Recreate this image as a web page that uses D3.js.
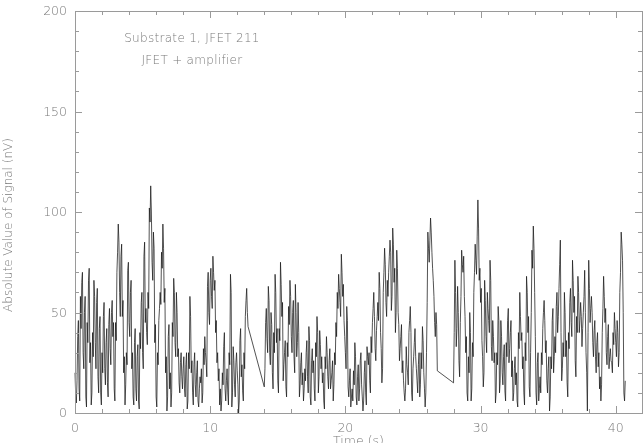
<!DOCTYPE html>
<meta charset="utf-8">
<style>
    body { margin: 0; background: #fff; }
    svg { will-change: transform; }
    .frame line, .frame path { stroke: #9a9a9a; shape-rendering: crispEdges; }
    text { font-family: "DejaVu Sans", sans-serif; font-weight: 200; fill: #7a7a7a; }
    .trace { fill: none; stroke: #1a1a1a; stroke-width: .75px; }
</style>
<body>
<script src="https://cdn.jsdelivr.net/npm/d3@7"></script>
<script>

    // three recording stretches, sampled every 0.05 s; the gaps are joined by straight lines
    var segStart = [0, 14.0, 28.0],
        segStep = 0.05;

    var seg1 = [20, 9, 5, 16, 38, 46, 12, 6, 58, 42, 65, 70, 30, 22, 50, 58, 8, 3, 45, 35, 66, 72, 25, 35, 4, 10, 40, 28, 66, 58, 35, 22, 55, 62, 18, 10, 42, 48, 10,
        4, 30, 20, 48, 55, 22, 14, 35, 42, 15, 8, 44, 52, 32, 24, 50, 56, 38, 45, 12, 6, 45, 36, 70, 80, 94, 85, 60, 48, 78, 84, 48, 56, 20, 28, 4, 14, 30, 24, 71,
        75, 45, 38, 60, 66, 22, 30, 8, 4, 35, 42, 12, 6, 28, 34, 6, 2, 40, 32, 55, 60, 30, 22, 78, 85, 45, 52, 40, 34, 60, 52, 102, 95, 113, 100, 75, 66, 90, 82, 35,
        44, 8, 3, 30, 24, 46, 52, 60, 54, 80, 72, 94, 82, 55, 62, 20, 28, 1, 8, 38, 44, 12, 20, 3, 10, 45, 38, 67, 60, 35, 28, 60, 50, 28, 32, 15, 10, 25, 30, 18,
        12, 22, 28, 12, 8, 24, 30, 2, 6, 30, 22, 58, 48, 20, 26, 10, 4, 24, 30, 14, 8, 20, 26, 6, 3, 12, 18, 15, 22, 5, 10, 32, 24, 38, 30, 25, 18, 63, 70, 50,
        44, 66, 72, 58, 52, 78, 70, 61, 66, 40, 46, 25, 30, 16, 22, 4, 12, 1, 6, 20, 14, 33, 40, 12, 6, 16, 22, 10, 4, 30, 24, 69, 60, 3, 10, 33, 26, 14, 8, 25,
        30, 21, 14, 0, 6, 36, 42, 18, 24, 11, 6, 30, 22, 48, 56, 62, 50, 43];

    var seg2 = [13, 22, 45, 52, 37, 30, 63, 56, 30, 24, 50, 44, 20, 12, 40, 30, 69, 60, 35, 42, 16, 10, 42, 36, 75, 64, 48, 55, 16, 24, 30, 36, 13, 8, 35, 28, 53, 44, 66,
        58, 38, 30, 50, 56, 28, 20, 64, 50, 28, 35, 55, 40, 8, 14, 25, 30, 14, 20, 6, 12, 22, 16, 30, 36, 18, 10, 43, 36, 8, 4, 26, 32, 20, 26, 12, 6, 35, 28, 48,
        40, 10, 18, 41, 34, 22, 28, 15, 20, 6, 2, 28, 22, 38, 30, 18, 12, 26, 32, 12, 16, 20, 26, 6, 14, 30, 24, 45, 38, 60, 52, 69, 62, 55, 48, 79, 70, 58, 64, 46,
        38, 30, 22, 53, 46, 13, 8, 16, 22, 3, 8, 12, 6, 21, 14, 35, 28, 8, 4, 18, 24, 6, 12, 26, 30, 14, 8, 1, 6, 20, 26, 10, 4, 33, 28, 24, 30, 16, 10, 38,
        30, 45, 52, 60, 48, 32, 26, 41, 48, 55, 46, 70, 62, 40, 32, 15, 22, 60, 70, 82, 74, 55, 48, 66, 58, 70, 78, 86, 80, 51, 58, 92, 84, 65, 72, 40, 50, 81, 72, 50,
        44, 26, 32, 38, 44, 20, 26, 16, 10, 6, 12, 33, 24, 20, 14, 40, 46, 53, 40, 10, 6, 22, 28, 35, 42, 28, 22, 16, 10, 24, 30, 8, 14, 30, 22, 43, 36, 20, 12, 3,
        10, 30, 55, 90, 82, 75, 86, 97, 90, 80, 72, 66, 58, 45, 38, 50, 44, 21];

    var seg3 = [15, 40, 76, 60, 33, 42, 63, 50, 26, 18, 45, 58, 81, 74, 70, 78, 58, 48, 30, 38, 10, 6, 28, 20, 50, 40, 6, 12, 35, 28, 60, 70, 84, 76, 69, 88, 106, 92, 66,
        72, 55, 62, 36, 28, 13, 20, 66, 56, 38, 30, 60, 52, 46, 40, 76, 66, 33, 26, 46, 38, 25, 30, 5, 10, 30, 24, 53, 46, 10, 16, 46, 38, 20, 14, 28, 34, 11, 6, 35,
        28, 46, 52, 25, 32, 40, 46, 18, 26, 6, 10, 22, 28, 14, 20, 6, 3, 40, 32, 60, 48, 36, 40, 22, 28, 10, 4, 35, 26, 68, 60, 40, 48, 13, 8, 30, 50, 81, 72, 93,
        82, 60, 38, 10, 4, 25, 30, 6, 12, 18, 10, 30, 24, 42, 50, 56, 46, 30, 36, 16, 10, 22, 28, 1, 8, 28, 22, 46, 52, 20, 28, 38, 30, 53, 60, 40, 48, 62, 74, 86,
        40, 16, 22, 35, 28, 60, 50, 28, 36, 15, 8, 40, 32, 55, 62, 45, 38, 76, 66, 50, 58, 26, 18, 48, 40, 68, 60, 40, 46, 55, 48, 33, 42, 50, 58, 71, 50, 30, 20, 1,
        40, 76, 62, 45, 52, 58, 50, 35, 28, 41, 46, 28, 20, 35, 40, 23, 30, 12, 18, 6, 14, 40, 52, 68, 58, 45, 52, 30, 24, 38, 44, 22, 28, 32, 26, 25, 20, 40, 34, 50,
        42, 35, 28, 46, 40, 23, 30, 60, 70, 90, 84, 76, 50, 10, 6, 16];

    var xTicks = [0, 10, 20, 30, 40],
        yTicks = [0, 50, 100, 150, 200];

    var titleLines = ["Substrate 1, JFET 211", "JFET + amplifier"];

    var width = 644, height = 443,
        mLeft = 75, mRight = 642, mTop = 11, mBottom = 413;

    var points = [];
    [seg1, seg2, seg3].forEach(function(seg, k) {
        seg.forEach(function(v, i) { points.push([segStart[k] + i * segStep, v]); });
    });

    var x = d3.scaleLinear().domain([0, 41.94]).range([mLeft, mRight]),
        y = d3.scaleLinear().domain([0, 200]).range([mBottom, mTop]);

    var svg = d3.select("body").append("svg")
        .attr("width", width)
        .attr("height", height);

    svg.append("path")
        .attr("class", "trace")
        .attr("d", d3.line().x(function(d) { return x(d[0]); }).y(function(d) { return y(d[1]); })(points));

    var frame = svg.append("g").attr("class", "frame");

    // box axes on all four sides, ticks pointing inward
    frame.append("g").attr("transform", "translate(0," + mBottom + ")")
        .call(d3.axisTop(x).tickValues(d3.range(0, 42, 2)).tickSize(4).tickFormat(""))
        .call(function(g) { g.selectAll(".tick line").filter(function(d) { return d % 10 === 0; }).attr("y2", -7); });
    frame.append("g").attr("transform", "translate(0," + mTop + ")")
        .call(d3.axisBottom(x).tickValues(d3.range(0, 42, 2)).tickSize(4).tickFormat(""))
        .call(function(g) { g.selectAll(".tick line").filter(function(d) { return d % 10 === 0; }).attr("y2", 7); });
    frame.append("g").attr("transform", "translate(" + mLeft + ",0)")
        .call(d3.axisRight(y).tickValues(d3.range(0, 201, 10)).tickSize(4).tickFormat(""))
        .call(function(g) { g.selectAll(".tick line").filter(function(d) { return d % 50 === 0; }).attr("x2", 7); });
    frame.append("g").attr("transform", "translate(" + mRight + ",0)")
        .call(d3.axisLeft(y).tickValues(d3.range(0, 201, 10)).tickSize(4).tickFormat(""))
        .call(function(g) { g.selectAll(".tick line").filter(function(d) { return d % 50 === 0; }).attr("x2", -7); });
    frame.selectAll(".domain").attr("fill", "none");

    svg.selectAll(".xlab")
        .data(xTicks)
        .enter().append("text")
        .attr("x", function(d) { return x(d); })
        .attr("y", 432)
        .attr("text-anchor", "middle")
        .style("font-size", "12.5px")
        .text(function(d) { return d; });

    svg.selectAll(".ylab")
        .data(yTicks)
        .enter().append("text")
        .attr("x", 67)
        .attr("y", function(d) { return y(d) + 4; })
        .attr("text-anchor", "end")
        .style("font-size", "12.5px")
        .text(function(d) { return d; });

    svg.append("text")
        .attr("x", (mLeft + mRight) / 2)
        .attr("y", 445)
        .attr("text-anchor", "middle")
        .style("font-size", "12.5px")
        .text("Time (s)");

    svg.append("text")
        .attr("transform", "translate(12,225)rotate(-90)")
        .attr("text-anchor", "middle")
        .style("font-size", "12px")
        .text("Absolute Value of Signal (nV)");

    svg.selectAll(".note")
        .data(titleLines)
        .enter().append("text")
        .attr("x", 192)
        .attr("y", function(d, i) { return 42 + i * 22; })
        .attr("text-anchor", "middle")
        .style("font-size", "12px")
        .style("letter-spacing", "0.3px")
        .text(function(d) { return d; });

</script>
</body>
</html>
